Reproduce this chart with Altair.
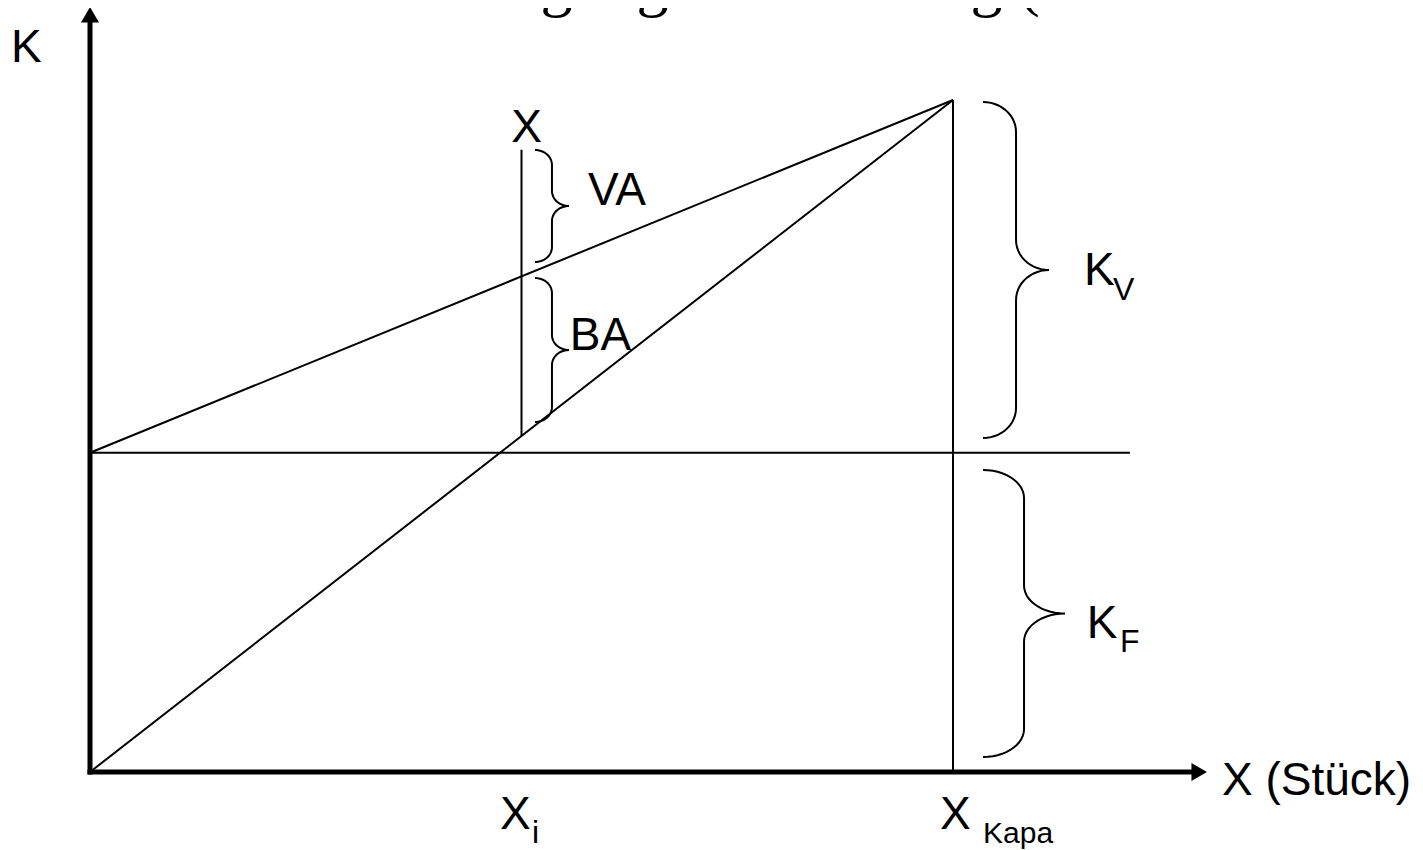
import altair as alt
import numpy as np
import pandas as pd

# ---- chart values (x: output in % of capacity, K: cost in % of cost at capacity)
x_kapa = 100.0
x_i = 50.0
k_fix = 47.5
k_total = 100.0
fix_line_end = 120.5
x_i_line_top = 92.6
y_axis_top = 111.9
x_axis_end = 128.0
y_arrow_center = 112.68
x_arrow_center = 128.53

# brace spans: name, x start, y top, y bottom, half width (px), arc radius (px)
brace_names = ["VA", "BA", "KV", "KF"]
brace_x0 = [51.56, 51.56, 103.48, 103.48]
brace_top = [92.56, 73.51, 99.7, 44.94]
brace_bot = [75.89, 52.08, 49.7, 2.23]
brace_w = [17, 17, 33, 41]
brace_r = [15, 15, 30, 28]

# labels: text, x, y, font size
sans_text = ["K", "X", "VA", "BA", "K", "V", "K", "F", "X (Stück)", "X", "Kapa", "X", "i"]
sans_x = [-9.15, 48.8, 57.7, 55.6, 115.18, 118.54, 115.5, 119.35, 131.17, 98.49, 103.48, 47.51, 51.22]
sans_y = [105.65, 93.75, 84.4, 62.8, 72.5, 70.24, 19.94, 17.86, -3.42, -8.48, -10.57, -8.48, -10.57]
sans_size = [46, 46, 46, 46, 46, 32, 46, 32, 46, 46, 30, 46, 32]

title_text = ["BA: Beschäftigungsabweichung (Soll verrechnete Kosten)"]
title_x = [9.97]
title_y = [114.29]

PX_X = 8.63
PX_Y = 6.72
X_DOMAIN = [-9.5017, 153.5342]
Y_DOMAIN = [-11.6071, 113.6905]

xs = alt.Scale(domain=X_DOMAIN, nice=False, zero=False)
ys = alt.Scale(domain=Y_DOMAIN, nice=False, zero=False)

# thin segments
seg = pd.DataFrame({
    "x": [0, 0, 0, x_kapa, x_i],
    "y": [k_fix, k_fix, 0, 0, x_i * k_total / x_kapa],
    "x2": [fix_line_end, x_kapa, x_kapa, x_kapa, x_i],
    "y2": [k_fix, k_total, k_total, k_total, x_i_line_top],
})
thin = alt.Chart(seg).mark_rule(color="black", strokeWidth=2).encode(
    x=alt.X("x:Q", scale=xs, axis=None),
    y=alt.Y("y:Q", scale=ys, axis=None),
    x2="x2:Q", y2="y2:Q",
)

axes_df = pd.DataFrame({
    "x": [0, 0], "y": [0, 0], "x2": [0, x_axis_end], "y2": [y_axis_top, 0]
})
thick = alt.Chart(axes_df).mark_rule(color="black", strokeWidth=5, strokeCap="square").encode(
    x=alt.X("x:Q", scale=xs, axis=None),
    y=alt.Y("y:Q", scale=ys, axis=None),
    x2="x2:Q", y2="y2:Q",
)

arrow_up = alt.Chart(pd.DataFrame({"x": [0], "y": [y_arrow_center]})).mark_point(
    shape="triangle-up", size=324, filled=True, color="black", opacity=1, strokeWidth=0
).encode(x=alt.X("x:Q", scale=xs, axis=None), y=alt.Y("y:Q", scale=ys, axis=None))
arrow_right = alt.Chart(pd.DataFrame({"x": [x_arrow_center], "y": [0]})).mark_point(
    shape="triangle-right", size=324, filled=True, color="black", opacity=1, strokeWidth=0
).encode(x=alt.X("x:Q", scale=xs, axis=None), y=alt.Y("y:Q", scale=ys, axis=None))


def brace(name, x0, ytop, ybot, wpx, rpx, n=14):
    dx = wpx / PX_X
    dy = rpx / PX_Y
    ymid = (ytop + ybot) / 2
    pts = []
    t = np.linspace(0, np.pi / 2, n)
    for a in t:
        pts.append((x0 + dx * np.sin(a), ytop - dy + dy * np.cos(a)))
    for a in t:
        pts.append((x0 + 2 * dx - dx * np.cos(a), ymid + dy - dy * np.sin(a)))
    for a in t:
        pts.append((x0 + 2 * dx - dx * np.sin(a), ymid - dy + dy * np.cos(a)))
    for a in t:
        pts.append((x0 + dx * np.cos(a), ybot + dy - dy * np.sin(a)))
    return pd.DataFrame({"name": name, "i": range(len(pts)),
                         "x": [p[0] for p in pts], "y": [p[1] for p in pts]})


br = pd.concat([brace(*a) for a in zip(brace_names, brace_x0, brace_top, brace_bot, brace_w, brace_r)])
braces = alt.Chart(br).mark_line(color="black", strokeWidth=2, interpolate="linear").encode(
    x=alt.X("x:Q", scale=xs, axis=None),
    y=alt.Y("y:Q", scale=ys, axis=None),
    detail="name:N", order="i:Q",
)

lab = pd.DataFrame({"t": sans_text, "x": sans_x, "y": sans_y, "s": sans_size})
labels = alt.Chart(lab).mark_text(
    font="Liberation Sans", align="left", baseline="alphabetic", color="black"
).encode(
    x=alt.X("x:Q", scale=xs, axis=None),
    y=alt.Y("y:Q", scale=ys, axis=None),
    text="t:N", size=alt.Size("s:Q", scale=None, legend=None),
)

ttl = alt.Chart(pd.DataFrame({"t": title_text, "x": title_x, "y": title_y})).mark_text(
    font="Liberation Serif", fontSize=64, align="left", baseline="alphabetic", color="black"
).encode(
    x=alt.X("x:Q", scale=xs, axis=None),
    y=alt.Y("y:Q", scale=ys, axis=None),
    text="t:N",
)

chart = alt.layer(thin, thick, arrow_up, arrow_right, braces, labels, ttl).properties(
    width=1407, height=842, autosize=alt.AutoSizeParams(type="none"), padding=0,
    background="white",
).configure_view(stroke=None)

chart.save("out.html", embed_options={"renderer": "svg", "actions": False})
